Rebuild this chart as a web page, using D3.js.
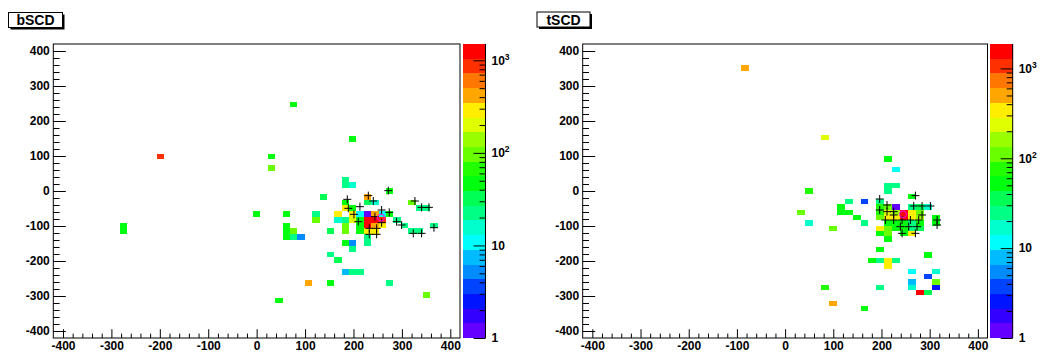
<!DOCTYPE html>
<html><head><meta charset="utf-8">
<script src="https://cdn.jsdelivr.net/npm/d3@7"></script>
<style>
html,body{margin:0;padding:0;background:#fff;}
svg{display:block;}
text{font-family:"Liberation Sans",Arial,Helvetica,sans-serif;font-weight:bold;fill:#000;}
</style></head><body>
<svg id="c" width="1045" height="354"></svg>
<script>
// ---------- data ----------
const AXIS_MIN = -420, AXIS_MAX = 420;
const axisTicks = [-400,-300,-200,-100,0,100,200,300,400];
const zTickValues = [1,10,100,1000];
const zTickExponents = [0,1,2,3];

// bSCD : 55 x bins, 51 y bins over [-420,420]
const bTitle = "bSCD";
const bNBinsX = 55, bNBinsY = 51;
const bBinX   = [32,40,14,29,29,39,39,40,45,36,42,42,43,48,49,50,39,39,40,38,40,41,42,43,44,45,38,39,40,41,42,43,44,39,41,42,43,44,39,41,42,43,42,42,46,47,48,49,51,35,35,27,31,9,9,31,31,31,32,32,33,37,39,40,40,37,38,39,40,41,34,37,45,50,30];
const bBinY   = [40,34,31,31,29,27,26,26,25,24,24,23,23,23,22,22,23,22,22,21,21,21,21,21,21,21,20,20,20,20,20,20,20,19,19,19,19,19,18,18,18,18,17,16,20,19,18,18,19,21,20,21,21,19,18,19,18,17,18,17,17,18,16,16,15,14,13,11,11,11,9,9,9,7,6];
const bCounts = [45,45,800,45,92,22,22,15,45,31,390,31,15,92,22,22,45,272,45,272,272,10.5,1.2,390,10.5,45,15,22,190,45,1500,1150,800,92,45,1150,390,272,92,45,272,272,22,22,22,22,22,22,22,22,92,45,45,45,45,45,45,45,92,22,5.1,31,45,5.1,22,22,31,7.3,22,22,390,45,22,92,45];
const bCrossX = [271.9,230.6,187.2,240.9,326.9,213.3,189.3,340.7,355.8,258.1,273.9,201.0,209.9,289.1,299.4,232.6,247.8,258.1,232.6,247.8,323.5,340.7,366.2,244.3];
const bCrossY = [1.0,-13.3,-23.8,-28.6,-28.6,-44.8,-49.5,-46.7,-46.7,-54.3,-61.0,-66.7,-87.6,-87.6,-97.1,-106.7,-106.7,-90.5,-123.8,-123.8,-121.0,-121.0,-104.8,-73.3];
const bCircleX = [256.8], bCircleY = [-76];

// tSCD : 51 x bins, 55 y bins over [-420,420]
const tTitle = "tSCD";
const tNBinsX = 51, tNBinsY = 55;
const tBinX   = [20,30,38,39,38,39,38,28,41,33,35,37,32,32,33,27,34,28,35,31,37,38,39,41,42,43,37,38,39,40,41,42,37,38,39,40,41,42,44,38,39,40,41,42,44,37,38,39,40,41,42,37,38,40,41,38,37,43,36,37,38,39,38,41,44,43,41,44,30,37,41,44,42,43,31,35];
const tBinY   = [50,37,33,31,28,28,27,27,26,25,25,25,24,23,23,23,22,21,21,20,24,24,24,24,24,24,23,23,23,23,23,23,22,22,22,22,22,22,22,21,21,21,21,21,21,20,20,20,20,20,20,19,19,19,19,18,16,15,14,14,14,14,13,12,12,11,10,10,9,9,9,9,8,8,6,5];
const tCounts = [460,218,49,11,23,23,23,71,49,23,3.7,23,49,49,49,103,49,16,23,103,71,103,1.2,23,33,16,71,218,150,1870,316,103,103,316,316,1400,316,150,49,49,49,49,23,49,49,316,103,49,49,23,33,49,103,49,316,49,49,49,49,23,316,23,316,11,16,3.7,7.6,103,71,23,16,2.5,1400,33,460,49];
const tCrossX = [196.3,196.3,211.5,211.5,225.3,270.4,266.9,284.2,301.5,208.0,225.3,242.7,260.0,277.3,315.4,315.4,239.2,256.5,273.8,242.7,270.4,225.3,284.2];
const tCrossY = [-22.9,-54.3,-40.0,-59.0,-59.0,-13.3,-42.9,-42.9,-42.9,-82.9,-82.9,-82.9,-82.9,-82.9,-82.9,-97.1,-101.9,-101.9,-101.9,-121.0,-121.0,-68.6,-68.6];
const tCircleX = [244.6], tCircleY = [-66.6];

// ---------- layout ----------
const panels = [
  {title:bTitle, nx:bNBinsX, ny:bNBinsY, ix:bBinX, iy:bBinY, counts:bCounts, cx:bCrossX, cy:bCrossY, ox:bCircleX, oy:bCircleY,
   fx0:53.3, fx1:460, fy0:44, fy1:338, cb0:462.5, cb1:485.5, tb:{x:8.5,y:12.5,w:54,h:15}},
  {title:tTitle, nx:tNBinsX, ny:tNBinsY, ix:tBinX, iy:tBinY, counts:tCounts, cx:tCrossX, cy:tCrossY, ox:tCircleX, oy:tCircleY,
   fx0:582.7, fx1:987.5, fy0:44, fy1:338, cb0:990, cb1:1012.7, tb:{x:537,y:12,w:53,h:15}}
];

const svg = d3.select('#c');
svg.append('rect').attr('width',1045).attr('height',354).attr('fill','#fff');

const NCOL = 50, NDIVZ = 20;
const palette = d3.range(NCOL).map(i => d3.hsl(280 - (i+1)*280/NCOL, 1, 0.5).formatHex());
const levelColor = k => palette[Math.min(NCOL-1, Math.floor((k+0.99)*NCOL/NDIVZ))];

function drawPanel(p) {
  const g = svg.append('g');
  const x = d3.scaleLinear().domain([AXIS_MIN, AXIS_MAX]).range([p.fx0, p.fx1]);
  const y = d3.scaleLinear().domain([AXIS_MIN, AXIS_MAX]).range([p.fy1, p.fy0]);
  const zmax = d3.max(p.counts);
  const L = Math.log10(zmax);
  const level = v => Math.max(0, Math.min(NDIVZ-1, Math.floor(0.01 + Math.log10(v)/L*NDIVZ)));
  const wx = (AXIS_MAX-AXIS_MIN)/p.nx, wy = (AXIS_MAX-AXIS_MIN)/p.ny;

  // bins
  g.append('g').selectAll('rect').data(d3.range(p.counts.length)).join('rect')
    .attr('x', i => x(AXIS_MIN + p.ix[i]*wx))
    .attr('y', i => y(AXIS_MIN + (p.iy[i]+1)*wy))
    .attr('width', i => x(AXIS_MIN + (p.ix[i]+1)*wx) - x(AXIS_MIN + p.ix[i]*wx))
    .attr('height', i => y(AXIS_MIN + p.iy[i]*wy) - y(AXIS_MIN + (p.iy[i]+1)*wy))
    .attr('fill', i => levelColor(level(p.counts[i])))
    .attr('shape-rendering','crispEdges');

  // crosses
  g.append('g').selectAll('path').data(d3.range(p.cx.length)).join('path')
    .attr('transform', i => `translate(${x(p.cx[i])},${y(p.cy[i])})`)
    .attr('d','M-4,0H4M0,-4V4')
    .attr('stroke','#000').attr('stroke-width',1).attr('fill','none');

  // circle
  g.append('g').selectAll('circle').data(d3.range(p.ox.length)).join('circle')
    .attr('cx', i => x(p.ox[i])).attr('cy', i => y(p.oy[i])).attr('r',3.5)
    .attr('fill','none').attr('stroke','#ff00ff').attr('stroke-width',1);

  // axes
  const minor = d3.range(-400, 401, 20).filter(v => v % 100 !== 0);
  const fmt = d => String(d);
  const styleAxis = sel => {
    sel.select('.domain').remove();
    sel.attr('font-size',null).attr('font-family',null);
    sel.selectAll('line').attr('stroke','#000');
    sel.selectAll('text').attr('font-size','12px');
  };
  g.append('g').attr('transform',`translate(${p.fx0},0)`)
    .call(d3.axisLeft(y).tickValues(axisTicks).tickSize(-12.5).tickPadding(3.5).tickFormat(fmt)).call(styleAxis);
  g.append('g').attr('transform',`translate(${p.fx0},0)`)
    .call(d3.axisLeft(y).tickValues(minor).tickSize(-6.3).tickFormat('')).call(styleAxis);
  g.append('g').attr('transform',`translate(0,${p.fy1})`)
    .call(d3.axisBottom(x).tickValues(axisTicks).tickSize(-8.8).tickPadding(3.5).tickFormat(fmt)).call(styleAxis);
  g.append('g').attr('transform',`translate(0,${p.fy1})`)
    .call(d3.axisBottom(x).tickValues(minor).tickSize(-4.4).tickFormat('')).call(styleAxis);

  // frame
  g.append('rect').attr('x',p.fx0).attr('y',p.fy0).attr('width',p.fx1-p.fx0).attr('height',p.fy1-p.fy0)
    .attr('fill','none').attr('stroke','#000').attr('stroke-width',1);

  // palette
  const z = d3.scaleLog().domain([1, zmax]).range([p.fy1, p.fy0]);
  g.append('g').selectAll('rect').data(d3.range(NDIVZ)).join('rect')
    .attr('x', p.cb0).attr('width', p.cb1-p.cb0)
    .attr('y', k => z(Math.pow(10,(k+1)*L/NDIVZ)))
    .attr('height', k => z(Math.pow(10,k*L/NDIVZ)) - z(Math.pow(10,(k+1)*L/NDIVZ)))
    .attr('fill', k => levelColor(k))
    .attr('shape-rendering','crispEdges');
  g.append('line').attr('x1',p.cb1).attr('x2',p.cb1).attr('y1',p.fy0).attr('y2',p.fy1).attr('stroke','#000');
  const zMinor = [];
  zTickValues.forEach(d => { for (let m=2;m<=9;m++) if (d*m <= zmax) zMinor.push(d*m); });
  g.append('g').attr('transform',`translate(${p.cb1},0)`)
    .call(d3.axisRight(z).tickValues(zTickValues).tickSize(-12).tickFormat('')).call(styleAxis);
  g.append('g').attr('transform',`translate(${p.cb1},0)`)
    .call(d3.axisRight(z).tickValues(zMinor).tickSize(-6).tickFormat('')).call(styleAxis);
  const lab = g.append('g').selectAll('text').data(d3.range(zTickValues.length)).join('text')
    .attr('x', p.cb1 + 6).attr('y', i => z(zTickValues[i])).attr('dy','0.36em').attr('font-size','12px');
  lab.each(function(i){
    const t = d3.select(this), e = zTickExponents[i];
    if (e === 0) t.text('1');
    else if (e === 1) t.text('10');
    else { t.append('tspan').text('10'); t.append('tspan').attr('font-size','8.5px').attr('dy','-5').text(String(e)); }
  });

  // title box
  const tb = p.tb;
  g.append('rect').attr('x',tb.x+2).attr('y',tb.y+2).attr('width',tb.w).attr('height',tb.h).attr('fill','#000');
  g.append('rect').attr('x',tb.x).attr('y',tb.y).attr('width',tb.w).attr('height',tb.h)
    .attr('fill','#fff').attr('stroke','#000').attr('stroke-width',1);
  g.append('text').attr('x',tb.x+tb.w/2).attr('y',tb.y+tb.h/2).attr('dy','0.36em')
    .attr('text-anchor','middle').attr('font-size','14px').text(p.title);
}
panels.forEach(drawPanel);
</script>
</body></html>
